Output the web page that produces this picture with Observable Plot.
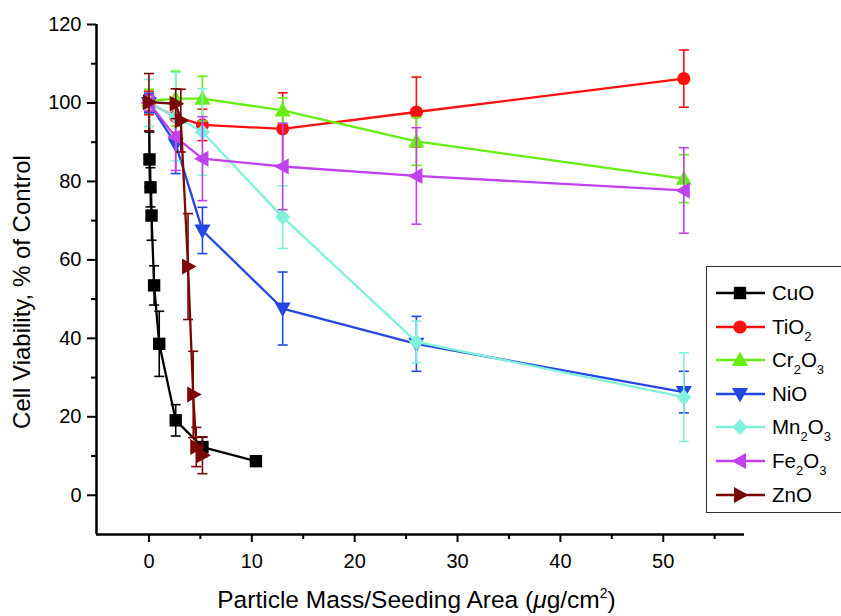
<!DOCTYPE html>
<html><head><meta charset="utf-8">
<script src="https://cdn.jsdelivr.net/npm/d3@7"></script>
<script src="https://cdn.jsdelivr.net/npm/@observablehq/plot@0.6"></script>
<style>
body{margin:0;background:#fff;overflow:hidden}
#wrap{position:relative;width:841px;height:616px;overflow:hidden;font-family:"Liberation Sans",Arial,sans-serif;color:#000}
#wrap svg.plot{position:absolute;left:0;top:0}
#ytitle{position:absolute;left-178px;left:-178px;top:277px;width:400px;height:30px;line-height:30px;text-align:center;font-size:24px;transform:rotate(-90deg)}
#xtitle{position:absolute;left:0;width:833px;top:585px;text-align:center;font-size:24.5px;line-height:30px}
#xtitle sup{font-size:14px;vertical-align:10px;line-height:0}
#legend{position:absolute;left:706px;top:266px;width:160px;height:247px;border:1.5px solid #333;background:#fff;box-sizing:border-box}
.lrow{position:absolute;left:0;height:30px;width:160px}
.lrow svg{position:absolute;left:8px;top:0}
.lrow span{position:absolute;left:65px;top:0;line-height:30px;font-size:20.5px;white-space:nowrap}
.lrow sub{font-size:13px;vertical-align:-7px;line-height:0}
</style></head><body><div id="wrap"></div>
<script>
// ---- data ----
const series = ["CuO","TiO2","Cr2O3","NiO","Mn2O3","Fe2O3","ZnO"];
const colors = ["#000000","#ff1010","#66ee11","#2447e4","#80f2dc","#c042ee","#7a0606"];

const cuoX = [0, 0.05, 0.15, 0.25, 0.5, 1.0, 2.6, 5.2, 10.4];
const cuoY = [100, 85.6, 78.5, 71.3, 53.5, 38.6, 19.1, 12.3, 8.7];
const cuoE = [2, 7, 5, 6.3, 5, 8.3, 4, 2.5, 0.8];

const stdX = [0, 2.6, 5.2, 13, 26, 52];
const tio2Y = [100, 96.5, 94.4, 93.4, 97.7, 106.2];
const tio2E = [3, 4, 4, 9.2, 8.9, 7.3];
const cr2o3Y = [100.5, 101.1, 101.1, 98.1, 90.2, 80.7];
const cr2o3E = [3, 7, 5.7, 3.2, 6.1, 6.1];
const nioY = [100, 89.5, 67.5, 47.6, 38.6, 26.3];
const nioE = [2.5, 7.5, 5.9, 9.3, 7, 5.3];
const mn2o3Y = [100, 96.5, 92.6, 70.9, 39.1, 25];
const mn2o3E = [6, 11.3, 11, 8, 5.3, 11.3];
const fe2o3Y = [100, 91.3, 85.8, 83.8, 81.4, 77.7];
const fe2o3E = [2, 8.5, 10.7, 11, 12.3, 10.9];

const znoX = [0, 2.6, 3.1, 3.8, 4.3, 4.6, 5.2];
const znoY = [100.2, 99.8, 95.5, 58.3, 25.7, 12.3, 10.2];
const znoE = [7.3, 3.8, 8, 13.5, 11, 5, 4.7];

const yTicks = [0, 20, 40, 60, 80, 100, 120];
const yMinor = [10, 30, 50, 70, 90, 110];
const xTicks = [0, 10, 20, 30, 40, 50];
const xMinor = [5, 15, 25, 35, 45, 55];
const xDomain = [-5.1, 57.9];
const yDomain = [-10, 120];

// ---- build rows ----
const seriesData = [
  [cuoX, cuoY, cuoE],
  [stdX, tio2Y, tio2E],
  [stdX, cr2o3Y, cr2o3E],
  [stdX, nioY, nioE],
  [stdX, mn2o3Y, mn2o3E],
  [stdX, fe2o3Y, fe2o3E],
  [znoX, znoY, znoE]
];
const rows = [];
seriesData.forEach(([xs, ys, es], i) => xs.forEach((x, j) => rows.push({s: series[i], x, y: ys[j], e: es[j]})));

// ---- symbols ----
function poly(pts) {
  return {draw(ctx, size) {
    const k = Math.sqrt(size / Math.PI) / 7;
    pts.forEach(([x, y], i) => i ? ctx.lineTo(x * k, y * k) : ctx.moveTo(x * k, y * k));
    ctx.closePath();
  }};
}
const symCircle = {draw(ctx, size) { const r = Math.sqrt(size / Math.PI) / 7 * 6.6; ctx.moveTo(r, 0); ctx.arc(0, 0, r, 0, 2 * Math.PI); }};
const symbols = [
  poly([[-6.2,-6.2],[6.2,-6.2],[6.2,6.2],[-6.2,6.2]]),
  symCircle,
  poly([[0,-8.5],[8,6],[-8,6]]),
  poly([[0,8.5],[8,-6],[-8,-6]]),
  poly([[0,-8],[7.5,0],[0,8],[-7.5,0]]),
  poly([[-8.5,0],[6,-8],[6,8]]),
  poly([[8.5,0],[-6,-8],[-6,8]])
];
const capSym = {draw(ctx, size) { ctx.moveTo(-5, 0); ctx.lineTo(5, 0); }};

// ---- marks ----
const marks = [
  Plot.axisX({ticks: xTicks, tickSize: 8, tickPadding: 11, strokeWidth: 2, fontSize: 20, label: null}),
  Plot.axisX({ticks: xMinor, tickSize: 5, tickFormat: () => "", strokeWidth: 2, label: null}),
  Plot.axisY({ticks: yTicks, tickSize: 9, tickPadding: 6, strokeWidth: 2, fontSize: 20, label: null}),
  Plot.axisY({ticks: yMinor, tickSize: 5, tickFormat: () => "", strokeWidth: 2, label: null}),
  Plot.ruleX([xDomain[0]], {strokeWidth: 2.5}),
  Plot.ruleY([yDomain[0]], {strokeWidth: 2.5})
];
series.forEach((s, i) => {
  const d = rows.filter(r => r.s === s);
  marks.push(
    Plot.ruleX(d, {x: "x", y1: r => r.y - r.e, y2: r => r.y + r.e, stroke: colors[i], strokeWidth: 1.6}),
    Plot.dot(d, {x: "x", y: r => r.y - r.e, symbol: capSym, r: 7, stroke: colors[i], fill: "none", strokeWidth: 1.6}),
    Plot.dot(d, {x: "x", y: r => r.y + r.e, symbol: capSym, r: 7, stroke: colors[i], fill: "none", strokeWidth: 1.6}),
    Plot.line(d, {x: "x", y: "y", stroke: colors[i], strokeWidth: 2.3}),
    Plot.dot(d, {x: "x", y: "y", symbol: symbols[i], r: 7, fill: colors[i], stroke: "none"})
  );
});

const chart = Plot.plot({
  width: 841,
  height: 616,
  marginLeft: 96,
  marginRight: 97,
  marginTop: 24,
  marginBottom: 82,
  x: {domain: xDomain},
  y: {domain: yDomain},
  style: {fontFamily: "'Liberation Sans', Arial, sans-serif", fontSize: "20px", background: "#fff", color: "#000"},
  marks
});
chart.classList.add("plot");
const wrap = document.getElementById("wrap");
wrap.appendChild(chart);

// ---- titles ----
const yt = document.createElement("div");
yt.id = "ytitle";
yt.textContent = "Cell Viability, % of Control";
wrap.appendChild(yt);
const xt = document.createElement("div");
xt.id = "xtitle";
xt.innerHTML = "Particle Mass/Seeding Area (<i>\u03bc</i>g/cm<sup>2</sup>)";
wrap.appendChild(xt);

// ---- legend ----
const leg = document.createElement("div");
leg.id = "legend";
wrap.appendChild(leg);
series.forEach((s, i) => {
  const row = document.createElement("div");
  row.className = "lrow";
  row.style.top = (11 + 33.6 * i) + "px";
  const svg = d3.create("svg").attr("width", 52).attr("height", 30);
  svg.append("line").attr("x1", 1).attr("x2", 50).attr("y1", 15).attr("y2", 15)
    .attr("stroke", colors[i]).attr("stroke-width", 2.3);
  const p = d3.path();
  symbols[i].draw(p, Math.PI * 49);
  svg.append("path").attr("d", p.toString()).attr("transform", "translate(25,15)").attr("fill", colors[i]);
  row.appendChild(svg.node());
  const span = document.createElement("span");
  span.innerHTML = s.replace(/(\d)/g, "<sub>$1</sub>");
  row.appendChild(span);
  leg.appendChild(row);
});
</script>
</body></html>
